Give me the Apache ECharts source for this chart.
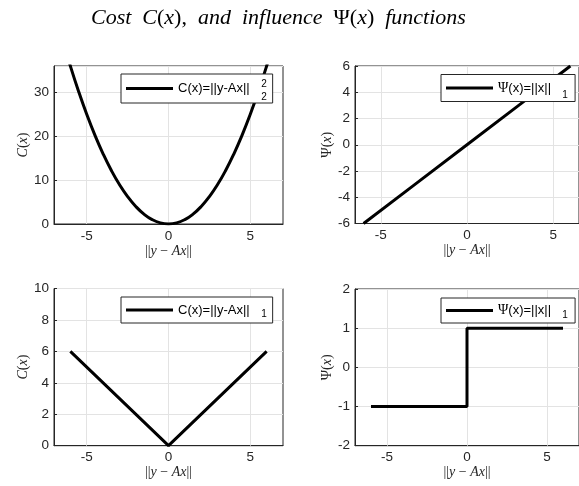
<!DOCTYPE html>
<html><head><meta charset="utf-8">
<script src="https://cdn.jsdelivr.net/npm/echarts@6/dist/echarts.min.js"></script>
<style>html,body{margin:0;padding:0;background:#fff}#c{width:579px;height:486px}</style>
</head><body><div id="c"></div>
<script>
// ---- data ----
const xQuad = [-6.5,-6,-5.5,-5,-4.5,-4,-3.5,-3,-2.5,-2,-1.5,-1,-0.5,0,0.5,1,1.5,2,2.5,3,3.5,4,4.5,5,5.5,6,6.5];
const yQuad = [42.25,36,30.25,25,20.25,16,12.25,9,6.25,4,2.25,1,0.25,0,0.25,1,2.25,4,6.25,9,12.25,16,20.25,25,30.25,36,42.25];
const xLin = [-6,-3,0,3,6];
const yLin = [-6,-3,0,3,6];
const xAbs = [-6,0,6];
const yAbs = [6,0,6];
const xSgn = [-6,0,0,6];
const ySgn = [-1,-1,1,1];
const xTicks = [-5,0,5];
const names = ['C(x)=||y-Ax||2', 'Psi(x)=||x||1', 'C(x)=||y-Ax||1', 'Psi(x)=||x||1 '];

const zip = (a,b) => a.map((v,i)=>[v,b[i]]);
const AX = '#262626', GRID = '#e3e3e3';
const sans = 'Liberation Sans, Arial, Helvetica, sans-serif';
const serif = 'Liberation Serif, DejaVu Serif, serif';
const TICKFS = 13.5, LEGFS = 13;

const grids = [
  {left:54, top:66, width:229, height:158},
  {left:355, top:66, width:230, height:157.5},
  {left:54, top:288.5, width:229, height:157.2},
  {left:355, top:289, width:229, height:156.7}
].map(g=>Object.assign({show:true, borderColor:AX, borderWidth:1, backgroundColor:'#fff'}, g));

const xRanges = [[-7,7],[-6.5,6.5],[-7,7],[-7,7]];
const yCfg = [
  {min:0,max:36,interval:10},
  {min:-6,max:6,interval:2},
  {min:0,max:10,interval:2},
  {min:-2,max:2,interval:1}
];
const yNames = ['C','Ψ','C','Ψ'];
const yGaps = [23,21,23,21];

const xNameRich = {
  n:{fontFamily:serif, fontSize:14, color:AX},
  i:{fontFamily:serif, fontSize:14, fontStyle:'italic', color:AX}
};
const xAxes = xRanges.map((r,k)=>({
  type:'value', gridIndex:k, min:r[0], max:r[1],
  axisLine:{show:true, onZero:false, lineStyle:{color:AX,width:1}},
  axisTick:{show:true, inside:true, length:3, customValues:xTicks, lineStyle:{color:AX}},
  axisLabel:{customValues:xTicks, fontFamily:sans, fontSize:TICKFS, color:AX, margin:5},
  splitLine:{show:false},
  name:'{n|||}{i|y}{n| − }{i|Ax}{n|||}', nameLocation:'middle', nameGap:18,
  nameTextStyle:{rich:xNameRich}
}));
const yAxes = yCfg.map((c,k)=>({
  type:'value', gridIndex:k, min:c.min, max:c.max, interval:c.interval,
  axisLine:{show:true, onZero:false, lineStyle:{color:AX,width:1}},
  axisTick:{show:true, inside:true, length:3, lineStyle:{color:AX}},
  axisLabel:{fontFamily:sans, fontSize:TICKFS, color:AX, margin:5, showMaxLabel: k===0 ? false : true},
  splitLine:{show:true, lineStyle:{color:GRID,width:1}},
  name: yNames[k]==='C' ? '{i|C}{n|(}{i|x}{n|)}' : '{n|Ψ(}{i|x}{n|)}',
  nameLocation:'middle', nameGap:yGaps[k],
  nameTextStyle:{rich:{
    n:{fontFamily:serif, fontSize:14, color:AX},
    i:{fontFamily:serif, fontSize:14, fontStyle:'italic', color:AX}
  }}
}));

const datas = [zip(xQuad,yQuad), zip(xLin,yLin), zip(xAbs,yAbs), zip(xSgn,ySgn)];
const series = datas.map((d,k)=>({
  type:'line', name:names[k], xAxisIndex:k, yAxisIndex:k, data:d,
  showSymbol:false, symbol:'none', smooth: k===0 ? true : false,
  lineStyle:{color:'#000', width:3}, itemStyle:{color:'#000'},
  clip:true, z:3,
  markLine:{silent:true, symbol:['none','none'], label:{show:false},
    lineStyle:{color:GRID, width:1, type:'solid'}, z:1,
    data: xTicks.map(v=>({xAxis:v}))}
}));

const legPos = [
  {left:121, top:74, pr:23, pv:8},
  {left:441, top:74.5, pr:24, pv:6.5},
  {left:121, top:297, pr:23, pv:6.5},
  {left:441, top:298, pr:24, pv:5.5}
];
const legends = legPos.map((p,k)=>{
  const isPsi = (k===1 || k===3);
  return {
    data:[names[k]], left:p.left, top:p.top, orient:'horizontal',
    padding:[p.pv,p.pr,p.pv,5], itemGap:0, itemWidth:47, itemHeight:3, icon:'rect',
    backgroundColor:'#fff', borderColor:AX, borderWidth:1, borderRadius:0,
    selectedMode:false,
    formatter: isPsi ? (n => '{p|Ψ}{t|(x)=||x||}') : (n => '{t|C(x)=||y-Ax||}'),
    textStyle:{rich:{
      p:{fontFamily:serif, fontSize:LEGFS+1, color:'#000'},
      t:{fontFamily:sans, fontSize:LEGFS, color:'#000'}
    }}
  };
});

const subs = [
  {x:264, y:84, t:'2'}, {x:264, y:97.5, t:'2'},
  {x:565, y:95, t:'1'}, {x:264, y:314, t:'1'}, {x:565, y:315, t:'1'}
];

const option = {
  backgroundColor:'#fff',
  animation:false,
  title:{
    text:'{i|Cost  C}{n|(}{i|x}{n|),}{i|  and  influence  }{n|Ψ(}{i|x}{n|)}{i|  functions}',
    left:86, top:2,
    textStyle:{fontWeight:'normal', rich:{
      i:{fontFamily:serif, fontSize:22, fontStyle:'italic', fontWeight:'normal', color:'#000'},
      n:{fontFamily:serif, fontSize:22, fontWeight:'normal', color:'#000'}
    }}
  },
  grid:grids, xAxis:xAxes, yAxis:yAxes, series:series, legend:legends,
  graphic: subs.map(s=>({type:'text', x:s.x, y:s.y, z:100, style:{text:s.t, fontFamily:sans, fontSize:10, fill:'#000', align:'center', verticalAlign:'middle'}}))
};
const chart = echarts.init(document.getElementById('c'), null, {renderer:'canvas'});
chart.setOption(option);
</script></body></html>
